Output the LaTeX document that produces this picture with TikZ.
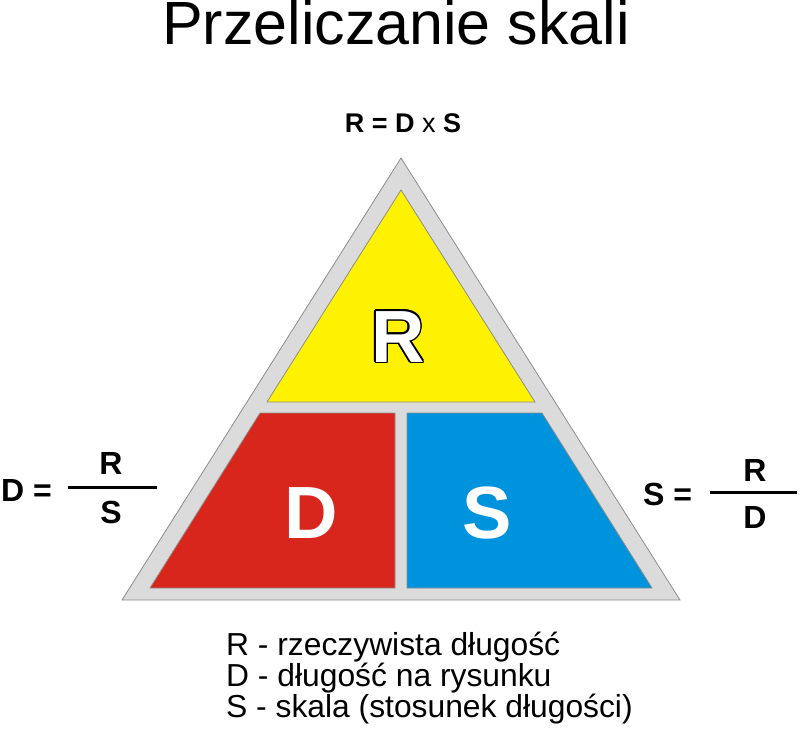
\documentclass[tikz,border=0pt]{standalone}
\usepackage{fontspec}
\setmainfont{Liberation Sans}
\definecolor{skalaYellow}{HTML}{FFF200}
\definecolor{skalaRed}{HTML}{D9261C}
\definecolor{skalaBlue}{HTML}{0093DD}
\definecolor{skalaGray}{HTML}{DBDBDB}
\definecolor{skalaEdge}{HTML}{8C8C8C}
\tikzset{
	wzor/.style={inner sep=0pt, anchor=base, font=\fontsize{27}{27}\selectfont\bfseries},
	ulamek/.style={inner sep=0pt, anchor=base, font=\fontsize{32}{32}\selectfont\bfseries},
	litera/.style={inner sep=0pt, anchor=base, font=\fontsize{74}{74}\selectfont\bfseries},
	opis/.style={inner sep=0pt, anchor=base west, font=\fontsize{31.8}{31.8}\selectfont},
	kreska/.style={line width=3pt},
	pole/.style={draw=skalaEdge, line width=0.8pt}
}
\begin{document}
\begin{tikzpicture}[x=1pt,y=-1pt]
	\useasboundingbox (0,0) rectangle (800,734);
	\node[inner sep=0pt, anchor=base, font=\fontsize{61}{61}\selectfont] (tytul) at (396,44) {Przeliczanie skali};
	\node[wzor] (wzorR) at (403,132) {R = D \mdseries x \bfseries S};
	% trojkat
	\filldraw[pole, fill=skalaGray] (401,158)--(680,600)--(122,600)--cycle;
	\filldraw[pole, fill=skalaYellow] (401,190)--(535,402)--(267,402)--cycle;
	\filldraw[pole, fill=skalaRed] (260,413)--(395,413)--(395,588)--(150,588)--cycle;
	\filldraw[pole, fill=skalaBlue] (407,413)--(542,413)--(652,588)--(407,588)--cycle;
	% litery
	\foreach \a in {0,30,...,330}
		\node[litera, text=black] (cienR\a) at ([shift={(\a:1.5)}]398,362) {R};
	\node[litera, text=white] (literaR) at (398,362) {R};
	\node[litera, text=white] (literaD) at (311,538) {D};
	\node[litera, text=white] (literaS) at (487,538) {S};
	% wzory z boku
	\node[ulamek, anchor=base west] (wzorD) at (1,501) {D =};
	\coordinate (lewaA) at (68,487);
	\coordinate (lewaB) at (157,487);
	\draw[kreska] (lewaA)--(lewaB);
	\node[ulamek] (lewaR) at (111,474) {R};
	\node[ulamek] (lewaS) at (111,523) {S};
	\node[ulamek, anchor=base west] (wzorS) at (643,505) {S =};
	\coordinate (prawaA) at (710,492);
	\coordinate (prawaB) at (797,492);
	\draw[kreska] (prawaA)--(prawaB);
	\node[ulamek] (prawaR) at (755,481) {R};
	\node[ulamek] (prawaD) at (755,528) {D};
	% legenda
	\node[opis] (opisR) at (226,655) {R - rzeczywista długość};
	\node[opis] (opisD) at (226,686) {D - długość na rysunku};
	\node[opis] (opisS) at (226,717) {S - skala (stosunek długości)};
\end{tikzpicture}
\end{document}
